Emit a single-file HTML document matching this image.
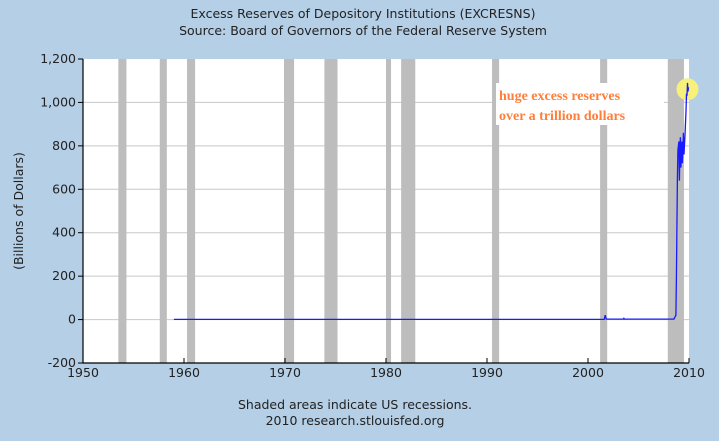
<!DOCTYPE html>
<html><head><meta charset="utf-8"><style>
body{margin:0;width:726px;height:441px;overflow:hidden;background:#fff}
svg{display:block;font-family:"DejaVu Sans","Liberation Sans",sans-serif}
</style></head><body>
<svg id="c" width="726" height="441">
<rect x="0" y="0" width="719" height="441" fill="#b5cfe6"/>
<text x="363" y="18" font-size="12.5" text-anchor="middle" fill="#222">Excess Reserves of Depository Institutions (EXCRESNS)</text>
<text x="363" y="35" font-size="12.5" text-anchor="middle" fill="#222">Source: Board of Governors of the Federal Reserve System</text>
<text x="355" y="409" font-size="12.5" text-anchor="middle" fill="#222">Shaded areas indicate US recessions.</text>
<text x="355" y="425" font-size="12.5" text-anchor="middle" fill="#222">2010 research.stlouisfed.org</text>
<text transform="translate(23,211) rotate(-90)" font-size="12.5" text-anchor="middle" fill="#222">(Billions of Dollars)</text>
<g id="plot"></g>
</svg>
<script>
const recessions=[[1953.5,1954.3],[1957.6,1958.3],[1960.3,1961.1],[1969.9,1970.9],[1973.9,1975.2],[1980.0,1980.5],[1981.5,1982.9],[1990.5,1991.2],[2001.2,2001.9],[2007.9,2009.5]];
const yTicks=[-200,0,200,400,600,800,1000,1200];
const xTicks=[1950,1960,1970,1980,1990,2000,2010];
const years=[1959.0,1970,1985,2001.6,2001.7,2001.8,2003.5,2003.55,2003.6,2008.5,2008.7,2008.75,2008.8,2008.85,2008.9,2009.0,2009.05,2009.1,2009.15,2009.2,2009.3,2009.35,2009.4,2009.45,2009.5,2009.6,2009.7,2009.75,2009.8,2009.85,2009.9,2009.95];
const values=[1,1,1,1,20,2,2,6,2,2,20,190,420,650,780,820,640,790,840,700,820,720,790,860,760,850,960,1040,1030,1090,1050,1070];
const X0=83,X1=689,Y0=363,Y1=59;
const xs=y=>X0+(y-1950)/60*(X1-X0);
const ys=v=>Y0-(v+200)/1400*(Y0-Y1);
const NS="http://www.w3.org/2000/svg";
const g=document.getElementById('plot');
function mk(t,a){const e=document.createElementNS(NS,t);for(const k in a)e.setAttribute(k,a[k]);g.appendChild(e);return e;}
let e=mk('rect',{x:X0,y:Y1,width:X1-X0,height:Y0-Y1,fill:'#fff'});


yTicks.forEach(t=>{
 if(t>-200&&t<1200){let l=mk('line',{x1:X0,x2:X1,y1:ys(t),y2:ys(t),stroke:'#c8c8c8','stroke-width':1});
 
 }
});
recessions.forEach(r=>{
 let b=mk('rect',{x:xs(r[0]),y:Y1,width:xs(r[1])-xs(r[0]),height:Y0-Y1,fill:'#bdbdbd'});
 
 
});
let box=mk('rect',{x:496,y:83,width:168,height:42,fill:'#fff'});


let last=values.length-1;
let c=mk('circle',{cx:xs(years[last])-1,cy:ys(values[last])+2,r:11,fill:'#f7f07a'});


let pts=years.map((y,i)=>xs(y).toFixed(1)+','+ys(values[i]).toFixed(1)).join(' ');
let pl=mk('polyline',{points:pts,fill:'none',stroke:'#1a1aff','stroke-width':1.3});


let ax=mk('path',{d:`M${X0},${Y1}V${Y0}H${X1}`,fill:'none',stroke:'#000','stroke-width':1.2});


yTicks.forEach(t=>{
 let tk=mk('line',{x1:X0-5,x2:X0,y1:ys(t),y2:ys(t),stroke:'#000'});
 
 
 let tx=mk('text',{x:X0-7,y:ys(t)+4,'font-size':12.5,'text-anchor':'end',fill:'#222'});
 tx.textContent=t.toLocaleString('en-US');
 
 
});
xTicks.forEach(t=>{
 let tk=mk('line',{x1:xs(t),x2:xs(t),y1:Y0,y2:Y0-5,stroke:'#000'});
 
 
 let tx=mk('text',{x:xs(t),y:Y0+14,'font-size':12.5,'text-anchor':'middle',fill:'#222'});
 tx.textContent=t;
 
 
});
[['huge excess reserves',100],['over a trillion dollars',120]].forEach(([s,y])=>{
 let t=mk('text',{x:499,y:y,'font-size':14,'font-weight':'bold','font-family':'"Liberation Serif",serif',fill:'#ff7f3a'});
 t.textContent=s;
 
 
});
</script>
</body></html>
